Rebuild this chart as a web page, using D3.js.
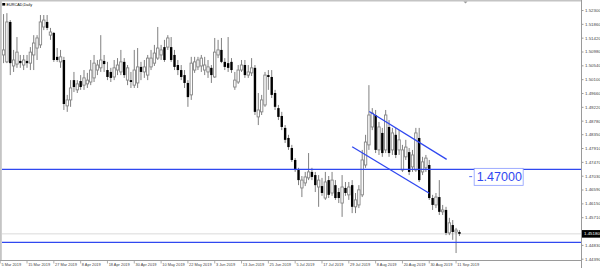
<!DOCTYPE html>
<html>
<head>
<meta charset="utf-8">
<script src="https://cdn.jsdelivr.net/npm/d3@7"></script>
<style>
  body { margin: 0; background: #fff; }
  svg { display: block; font-family: "Liberation Sans", Arial, sans-serif; }
</style>
</head>
<body>
<svg id="chart" width="600" height="268"></svg>
<script>
"use strict";

// --- data ---

const symbolTitle = "EURCAD,Daily"

// daily bars, 5 Mar 2019 .. 12 Sep 2019 : [open, high, low, close]
const ohlc = [
  [1.5077, 1.5119, 1.5065, 1.5096], [1.5087, 1.5217, 1.5061, 1.5103], [1.5065, 1.5220, 1.5061, 1.5192],
  [1.5192, 1.5198, 1.5023, 1.5061], [1.5052, 1.5103, 1.5033, 1.5071], [1.5058, 1.5144, 1.5046, 1.5096],
  [1.5068, 1.5087, 1.5046, 1.5061], [1.5055, 1.5087, 1.5039, 1.5071], [1.5068, 1.5087, 1.5046, 1.5061],
  [1.5061, 1.5112, 1.5039, 1.5096], [1.5087, 1.5150, 1.5039, 1.5125], [1.5109, 1.5150, 1.5071, 1.5141],
  [1.5119, 1.5214, 1.5109, 1.5192], [1.5176, 1.5214, 1.5166, 1.5198], [1.5192, 1.5214, 1.5166, 1.5173],
  [1.5150, 1.5173, 1.5135, 1.5160], [1.5157, 1.5160, 1.5065, 1.5071], [1.5081, 1.5109, 1.5065, 1.5071],
  [1.5065, 1.5103, 1.5046, 1.5081], [1.5071, 1.5081, 1.4912, 1.4931], [1.4925, 1.4960, 1.4906, 1.4944],
  [1.4944, 1.5007, 1.4922, 1.4982], [1.5007, 1.5033, 1.4969, 1.4985], [1.4976, 1.5007, 1.4966, 1.4995],
  [1.5004, 1.5023, 1.4976, 1.4985], [1.4991, 1.5039, 1.4976, 1.5014], [1.4995, 1.5030, 1.4982, 1.5007],
  [1.5001, 1.5071, 1.4991, 1.5039], [1.5014, 1.5087, 1.5001, 1.5061], [1.5039, 1.5071, 1.5023, 1.5055],
  [1.5046, 1.5150, 1.5033, 1.5071], [1.5068, 1.5087, 1.5033, 1.5058], [1.5039, 1.5065, 1.5007, 1.5017],
  [1.5033, 1.5046, 1.5001, 1.5014], [1.5017, 1.5071, 1.5007, 1.5046], [1.5039, 1.5077, 1.5023, 1.5055],
  [1.5033, 1.5103, 1.5023, 1.5065], [1.5065, 1.5077, 1.5014, 1.5023], [1.5007, 1.5055, 1.4991, 1.5046],
  [1.5007, 1.5033, 1.4982, 1.5001], [1.4991, 1.5103, 1.4982, 1.5039], [1.4998, 1.5109, 1.4982, 1.5049],
  [1.5049, 1.5065, 1.5007, 1.5033], [1.5033, 1.5071, 1.5014, 1.5049], [1.5023, 1.5087, 1.5007, 1.5077],
  [1.5049, 1.5103, 1.5039, 1.5077], [1.5061, 1.5119, 1.5052, 1.5093], [1.5077, 1.5176, 1.5071, 1.5109],
  [1.5087, 1.5119, 1.5071, 1.5103], [1.5112, 1.5135, 1.5065, 1.5071], [1.5112, 1.5150, 1.5103, 1.5141],
  [1.5112, 1.5144, 1.5065, 1.5071], [1.5087, 1.5103, 1.5039, 1.5049], [1.5055, 1.5071, 1.5023, 1.5039],
  [1.5039, 1.5055, 1.5007, 1.5017], [1.5023, 1.5039, 1.4982, 1.4998], [1.4998, 1.5007, 1.4922, 1.4953],
  [1.4960, 1.5081, 1.4944, 1.5061], [1.5039, 1.5081, 1.5030, 1.5065], [1.5049, 1.5081, 1.5039, 1.5071],
  [1.5052, 1.5087, 1.5033, 1.5077], [1.5039, 1.5081, 1.5023, 1.5055], [1.5033, 1.5071, 1.5014, 1.5049],
  [1.5046, 1.5055, 1.4998, 1.5023], [1.5017, 1.5141, 1.5014, 1.5096], [1.5087, 1.5135, 1.5077, 1.5103],
  [1.5103, 1.5141, 1.5061, 1.5065], [1.5065, 1.5077, 1.5039, 1.5049], [1.5061, 1.5144, 1.5033, 1.5046],
  [1.5065, 1.5077, 1.5030, 1.5039], [1.4985, 1.5033, 1.4976, 1.5007], [1.5001, 1.5055, 1.4995, 1.5039],
  [1.5039, 1.5071, 1.5033, 1.5055], [1.5055, 1.5071, 1.5014, 1.5023], [1.5023, 1.5055, 1.5014, 1.5033],
  [1.5030, 1.5077, 1.5020, 1.5046], [1.5046, 1.5055, 1.4896, 1.4906], [1.4890, 1.4966, 1.4864, 1.4912],
  [1.4906, 1.4960, 1.4896, 1.4944], [1.4928, 1.5033, 1.4922, 1.5023], [1.5023, 1.5039, 1.4976, 1.5017],
  [1.5017, 1.5039, 1.4950, 1.4960], [1.4966, 1.4976, 1.4912, 1.4922], [1.4918, 1.4928, 1.4880, 1.4890],
  [1.4893, 1.4906, 1.4848, 1.4858], [1.4855, 1.4864, 1.4807, 1.4817], [1.4823, 1.4833, 1.4785, 1.4794],
  [1.4791, 1.4801, 1.4747, 1.4753], [1.4753, 1.4759, 1.4715, 1.4721], [1.4721, 1.4728, 1.4673, 1.4689],
  [1.4664, 1.4702, 1.4635, 1.4689], [1.4680, 1.4715, 1.4670, 1.4699], [1.4696, 1.4775, 1.4689, 1.4715],
  [1.4715, 1.4728, 1.4689, 1.4699], [1.4705, 1.4715, 1.4651, 1.4673], [1.4667, 1.4705, 1.4604, 1.4689],
  [1.4670, 1.4696, 1.4639, 1.4648], [1.4632, 1.4715, 1.4626, 1.4683], [1.4689, 1.4702, 1.4632, 1.4642],
  [1.4648, 1.4715, 1.4639, 1.4689], [1.4673, 1.4689, 1.4626, 1.4632], [1.4651, 1.4664, 1.4616, 1.4632],
  [1.4616, 1.4705, 1.4572, 1.4667], [1.4664, 1.4683, 1.4639, 1.4648], [1.4642, 1.4683, 1.4626, 1.4667],
  [1.4673, 1.4689, 1.4584, 1.4604], [1.4604, 1.4648, 1.4584, 1.4626], [1.4610, 1.4673, 1.4600, 1.4658],
  [1.4642, 1.4785, 1.4635, 1.4753], [1.4737, 1.4833, 1.4728, 1.4810], [1.4801, 1.4991, 1.4785, 1.4896],
  [1.4858, 1.4918, 1.4848, 1.4902], [1.4896, 1.4912, 1.4775, 1.4785], [1.4785, 1.4874, 1.4769, 1.4858],
  [1.4839, 1.4855, 1.4763, 1.4775], [1.4785, 1.4912, 1.4775, 1.4896], [1.4858, 1.4880, 1.4763, 1.4775],
  [1.4785, 1.4855, 1.4769, 1.4839], [1.4833, 1.4855, 1.4759, 1.4769], [1.4785, 1.4848, 1.4769, 1.4817],
  [1.4721, 1.4801, 1.4715, 1.4785], [1.4763, 1.4817, 1.4753, 1.4794], [1.4778, 1.4791, 1.4705, 1.4715],
  [1.4731, 1.4785, 1.4715, 1.4769], [1.4721, 1.4855, 1.4715, 1.4839], [1.4823, 1.4855, 1.4683, 1.4689],
  [1.4715, 1.4763, 1.4705, 1.4747], [1.4728, 1.4769, 1.4715, 1.4759], [1.4737, 1.4753, 1.4626, 1.4632],
  [1.4632, 1.4642, 1.4594, 1.4610], [1.4610, 1.4648, 1.4600, 1.4635], [1.4635, 1.4689, 1.4578, 1.4588],
  [1.4588, 1.4610, 1.4578, 1.4594], [1.4594, 1.4604, 1.4514, 1.4521], [1.4521, 1.4569, 1.4514, 1.4553],
  [1.4546, 1.4562, 1.4499, 1.4524], [1.4524, 1.4537, 1.4457, 1.4530], [1.4524, 1.4530, 1.4511, 1.4518]
]

const dateTickBars = [0, 8, 16, 24, 32, 40, 48, 56, 64, 72, 80, 88, 96, 104, 112, 120, 128, 136]
const dateTickLabels = ["5 Mar 2019", "15 Mar 2019", "27 Mar 2019", "8 Apr 2019", "18 Apr 2019",
  "30 Apr 2019", "10 May 2019", "22 May 2019", "3 Jun 2019", "13 Jun 2019", "25 Jun 2019",
  "5 Jul 2019", "17 Jul 2019", "29 Jul 2019", "8 Aug 2019", "20 Aug 2019", "30 Aug 2019", "11 Sep 2019"]

const priceTicks = [1.52300, 1.51860, 1.51420, 1.50980, 1.50540, 1.50100, 1.49660, 1.49220, 1.48780,
  1.48350, 1.47910, 1.47470, 1.47030, 1.46590, 1.46150, 1.45710, 1.45270, 1.44830, 1.44390]

// drawn objects: horizontal levels, falling channel (bar index, price), text note
const levelPrices = [1.4723, 1.4491]
const channelUpper = [[110.1, 1.4907], [133.2, 1.4755]]
const channelLower = [[105.0, 1.4795], [128.0, 1.4647]]
const noteBar = 141.4
const notePrice = 1.4700
const noteText = "1.47000"

// --- layout ---

const W = 600, H = 268
const plotLeft = 2, plotRight = 581, plotTop = 2, plotBottom = 260
const blue = "#3048f0"

const svg = d3.select("#chart")

const x = d3.scaleLinear().domain([0, ohlc.length - 1]).range([0.2, 0.2 + 3.352 * (ohlc.length - 1)])
const y = d3.scaleLinear().domain([1.44390, 1.52300]).range([258.7, 10])

svg.append("defs").append("clipPath").attr("id", "plot")
  .append("rect")
  .attr("x", plotLeft).attr("y", plotTop)
  .attr("width", plotRight - plotLeft).attr("height", plotBottom - plotTop)

// frame
svg.append("rect").attr("x", 0).attr("y", 0).attr("width", plotRight).attr("height", 1.5).attr("fill", "#c4c4c4")
svg.append("rect").attr("x", 0).attr("y", 0).attr("width", 1.8).attr("height", plotBottom).attr("fill", "#c4c4c4")

const plot = svg.append("g").attr("clip-path", "url(#plot)")

// bid line
const lastClose = ohlc[ohlc.length - 1][3]
plot.append("line")
  .attr("x1", plotLeft).attr("x2", plotRight)
  .attr("y1", y(lastClose)).attr("y2", y(lastClose))
  .attr("stroke", "#dadada").attr("stroke-width", 1)

// candles
const candles = plot.append("g")
candles.selectAll("line.wick").data(ohlc).join("line")
  .attr("class", "wick")
  .attr("x1", (d, i) => x(i)).attr("x2", (d, i) => x(i))
  .attr("y1", d => y(d[1])).attr("y2", d => y(d[2]))
  .attr("stroke", "#808080").attr("stroke-width", 1)

candles.selectAll("rect.body").data(ohlc).join("rect")
  .attr("class", "body")
  .attr("x", (d, i) => x(i) - 1.2)
  .attr("width", 2.4)
  .attr("y", d => y(Math.max(d[0], d[3])))
  .attr("height", d => Math.max(0.8, Math.abs(y(d[0]) - y(d[3]))))
  .attr("fill", d => d[3] >= d[0] ? "#fff" : "#000")
  .attr("stroke", d => d[3] >= d[0] ? "#858585" : "none")
  .attr("stroke-width", 0.9)

// horizontal levels
plot.selectAll("line.level").data(levelPrices).join("line")
  .attr("class", "level")
  .attr("x1", plotLeft).attr("x2", plotRight)
  .attr("y1", d => y(d)).attr("y2", d => y(d))
  .attr("stroke", blue).attr("stroke-width", 1.2)

// channel
const line = d3.line().x(d => x(d[0])).y(d => y(d[1]))
plot.selectAll("path.channel").data([channelUpper, channelLower]).join("path")
  .attr("class", "channel")
  .attr("d", line)
  .attr("fill", "none").attr("stroke", blue).attr("stroke-width", 1.3)

// text note
const nx = x(noteBar), ny = y(notePrice)
plot.append("line")
  .attr("x1", nx - 5).attr("x2", nx - 2).attr("y1", ny).attr("y2", ny)
  .attr("stroke", blue).attr("stroke-width", 0.8)
plot.append("rect")
  .attr("x", nx).attr("y", ny - 8.3).attr("width", 49).attr("height", 17)
  .attr("fill", "#fff").attr("stroke", "#8a9cff").attr("stroke-width", 0.8)
plot.append("text")
  .attr("x", nx + 2.5).attr("y", ny + 4.8)
  .attr("font-size", 12.5).attr("fill", blue)
  .text(noteText)

// title
svg.append("path").attr("d", "M2.3,3 L5.2,3 L5.2,5.6 L2.3,5.6 Z").attr("fill", "#000")
svg.append("text").attr("x", 6.5).attr("y", 5.8)
  .attr("font-size", 3.8).attr("fill", "#000").text(symbolTitle)

// chart shift marker
svg.append("path").attr("d", "M463.5,1.5 L467.5,1.5 L465.5,3.5 Z").attr("fill", "#9a9a9a")

// price axis
svg.append("line").attr("x1", plotRight + 0.5).attr("x2", plotRight + 0.5)
  .attr("y1", 0).attr("y2", H).attr("stroke", "#9a9a9a").attr("stroke-width", 1)

const yAxis = d3.axisRight(y).tickValues(priceTicks).tickFormat(d3.format(".5f"))
  .tickSize(2).tickPadding(1.5)
const ya = svg.append("g").attr("transform", `translate(${plotRight + 0.5},0)`).call(yAxis)
ya.select(".domain").remove()
ya.selectAll("line").attr("stroke", "#9a9a9a")
ya.selectAll("text").attr("font-size", 4.4).attr("fill", "#444").attr("font-family", "Liberation Sans, Arial, sans-serif")

// current price tag (covers the axis label under it, as in the terminal)
const tagY = y(lastClose)
svg.append("rect").attr("x", plotRight + 1).attr("y", tagY - 3.8).attr("width", 19).attr("height", 7.6).attr("fill", "#000")
svg.append("text").attr("x", plotRight + 3).attr("y", tagY + 1.5)
  .attr("font-size", 4.4).attr("fill", "#fff").text(d3.format(".5f")(lastClose))

// time axis
svg.append("line").attr("x1", 0).attr("x2", plotRight).attr("y1", plotBottom + 0.5).attr("y2", plotBottom + 0.5)
  .attr("stroke", "#9a9a9a").attr("stroke-width", 1)

const xTicks = svg.append("g")
xTicks.selectAll("line").data(dateTickBars).join("line")
  .attr("x1", d => x(d)).attr("x2", d => x(d))
  .attr("y1", plotBottom + 1).attr("y2", plotBottom + 3.5)
  .attr("stroke", "#9a9a9a").attr("stroke-width", 0.8)
xTicks.selectAll("text").data(dateTickBars).join("text")
  .attr("x", d => x(d) + 1.2).attr("y", plotBottom + 5.8)
  .attr("font-size", 3.9).attr("fill", "#444")
  .text((d, i) => dateTickLabels[i])
</script>
</body>
</html>
